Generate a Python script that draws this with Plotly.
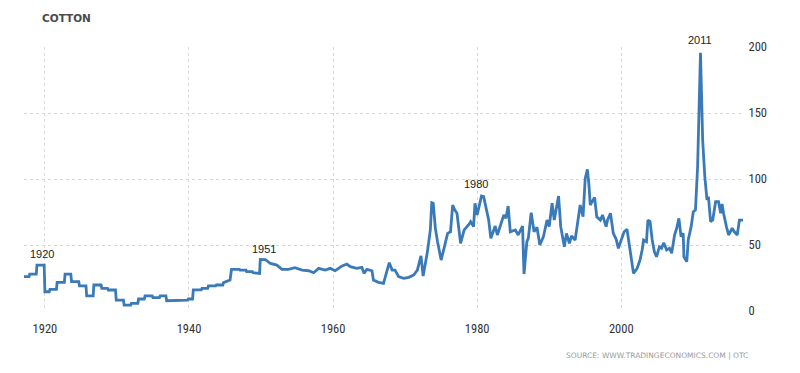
import plotly.graph_objects as go

# Cotton price (USd/lb) (decimal years)
years = [
    1917.1, 1917.8, 1917.9, 1918.8, 1918.9, 1919.9, 1920.0, 1920.6, 1920.7, 1921.6,
    1921.7, 1922.7, 1922.8, 1923.6, 1923.7, 1924.7, 1924.8, 1925.7, 1925.8, 1926.7,
    1926.8, 1927.8, 1927.9, 1928.7, 1928.8, 1929.8, 1929.9, 1930.9, 1931.0, 1931.9,
    1932.0, 1932.9, 1933.0, 1933.8, 1933.9, 1934.9, 1935.0, 1935.9, 1936.0, 1936.8,
    1936.9, 1938.9, 1939.0, 1939.8, 1939.9, 1940.5, 1940.6, 1941.7, 1941.8, 1942.6,
    1942.7, 1943.7, 1943.8, 1944.7, 1944.8, 1945.7, 1945.9, 1947.0, 1947.1, 1947.9,
    1948.0, 1948.8, 1948.9, 1949.6, 1949.8, 1949.9, 1950.6, 1951.3, 1952.2, 1952.9,
    1953.8, 1954.7, 1955.7, 1956.6, 1957.3, 1958.0, 1958.9, 1959.6, 1960.3, 1961.2,
    1961.9, 1962.4, 1963.3, 1964.0, 1964.3, 1964.7, 1965.4, 1965.6, 1966.3, 1967.0,
    1967.5, 1967.8, 1968.2, 1968.6, 1969.1, 1969.8, 1970.5, 1971.2, 1971.7, 1972.2,
    1972.5, 1973.1, 1973.5, 1973.7, 1973.9, 1974.2, 1974.5, 1975.0, 1975.4, 1975.9,
    1976.3, 1976.6, 1976.9, 1977.2, 1977.7, 1978.2, 1978.8, 1979.1, 1979.5, 1979.7,
    1980.0, 1980.6, 1980.9, 1981.3, 1981.6, 1981.9, 1982.5, 1982.8, 1983.4, 1983.7,
    1984.0, 1984.3, 1984.6, 1985.3, 1985.7, 1986.3, 1986.5, 1986.9, 1987.1, 1987.5,
    1987.9, 1988.3, 1988.7, 1989.2, 1989.7, 1990.0, 1990.4, 1990.7, 1991.3, 1991.6,
    1992.1, 1992.4, 1992.8, 1993.1, 1993.6, 1994.1, 1994.3, 1994.7, 1995.0, 1995.3,
    1995.5, 1995.7, 1996.3, 1996.6, 1997.1, 1997.4, 1997.9, 1998.1, 1998.5, 1998.9,
    1999.3, 1999.6, 2000.1, 2000.4, 2000.8, 2001.2, 2001.5, 2001.7, 2002.2, 2002.6,
    2002.9, 2003.1, 2003.5, 2003.7, 2004.0, 2004.3, 2004.6, 2004.9, 2005.3, 2005.6,
    2005.9, 2006.3, 2006.7, 2007.0, 2007.4, 2007.7, 2008.0, 2008.3, 2008.6, 2008.7,
    2009.1, 2009.3, 2009.7, 2010.0, 2010.3, 2010.6, 2011.0, 2011.3, 2011.6, 2011.9,
    2012.1, 2012.4, 2012.7, 2013.1, 2013.5, 2013.8, 2014.0, 2014.2, 2014.6, 2014.9,
    2015.4, 2015.7, 2016.1, 2016.4, 2016.9,
]
prices = [
    26.0, 26.0, 28.0, 28.0, 34.8, 34.8, 14.6, 14.6, 16.4, 16.4,
    21.7, 21.7, 28.0, 28.0, 22.2, 22.2, 19.0, 19.0, 11.4, 11.4,
    19.7, 19.7, 17.2, 17.2, 15.9, 15.9, 8.3, 8.3, 4.5, 4.5,
    5.8, 5.8, 9.1, 9.1, 11.4, 11.4, 10.1, 10.1, 11.4, 11.4,
    7.8, 7.8, 8.3, 8.3, 9.1, 9.1, 16.0, 16.0, 17.2, 17.2,
    19.0, 19.0, 19.7, 19.7, 21.5, 23.5, 31.6, 31.6, 31.0, 31.0,
    29.8, 29.8, 29.0, 28.5, 28.5, 39.1, 39.0, 36.0, 34.8, 31.6,
    31.6, 32.8, 31.0, 30.5, 29.0, 32.3, 31.0, 32.3, 30.5, 34.0,
    35.6, 33.6, 32.3, 33.0, 28.5, 31.6, 30.5, 23.5, 21.7, 21.0,
    29.8, 36.6, 31.0, 31.0, 26.0, 24.7, 25.5, 27.3, 31.0, 41.7,
    26.5, 45.0, 61.4, 82.0, 81.6, 62.6, 52.5, 38.6, 47.5, 58.8,
    60.0, 80.3, 76.5, 74.0, 51.3, 61.4, 65.2, 67.7, 63.9, 81.6,
    72.7, 87.1, 86.6, 77.8, 68.9, 55.0, 64.4, 57.6, 68.9, 72.7,
    70.2, 79.5, 60.0, 61.4, 57.6, 64.4, 28.0, 52.5, 55.0, 74.5,
    60.0, 63.4, 50.0, 56.3, 68.9, 63.9, 81.6, 68.9, 87.1, 63.9,
    48.7, 58.8, 51.3, 56.8, 53.8, 72.7, 80.3, 71.4, 100.5, 107.3,
    96.7, 80.3, 86.1, 71.4, 68.9, 72.7, 63.9, 68.9, 74.0, 58.8,
    54.3, 47.5, 56.3, 60.0, 61.9, 46.2, 36.1, 28.5, 32.3, 38.6,
    46.2, 53.8, 52.5, 68.9, 67.7, 53.8, 44.9, 41.1, 48.7, 47.5,
    51.7, 46.2, 47.5, 43.7, 57.6, 62.7, 70.2, 56.3, 58.8, 41.1,
    37.3, 53.8, 63.9, 75.2, 76.5, 109.3, 195.7, 129.5, 101.7, 84.1,
    86.6, 67.7, 68.9, 82.8, 82.8, 74.0, 81.1, 74.0, 63.9, 57.6,
    62.7, 60.0, 57.6, 68.9, 68.9,
]

x_ticks = [1920, 1940, 1960, 1980, 2000]
y_ticks = [0, 50, 100, 150, 200]

ann_labels = ["1920", "1951", "1980", "2011"]
ann_x = [1919.6, 1950.4, 1979.9, 2011.0]
ann_y = [37, 41, 90, 199]

LINE = "#3a7ab8"
GRID = "#d8d8d8"
TICKFONT = dict(family="Liberation Sans Narrow, Roboto Condensed, Liberation Sans, Arial",
                size=12.5, color="#333333")

fig = go.Figure()
fig.add_trace(go.Scatter(
    x=years, y=prices, mode="lines",
    line=dict(color=LINE, width=2.8),
    hoverinfo="x+y", showlegend=False,
))

for t, xa, ya in zip(ann_labels, ann_x, ann_y):
    fig.add_annotation(x=xa, y=ya, xref="x", yref="y", text=t, showarrow=False,
                       yanchor="bottom", xanchor="center",
                       font=dict(family="Liberation Sans, Arial", size=11, color="#222222"))

fig.add_annotation(
    x=1.01, y=-0.17, xref="paper", yref="paper",
    text="SOURCE: WWW.TRADINGECONOMICS.COM | OTC", showarrow=False,
    xanchor="right", yanchor="middle",
    font=dict(family="DejaVu Sans, Verdana", size=7.5, color="#9a9a9a"),
)

fig.update_layout(
    width=800, height=373,
    margin=dict(l=24, r=57, t=47, b=62),
    paper_bgcolor="white", plot_bgcolor="white",
    title=dict(text="<b>COTTON</b>", x=42 / 800, xanchor="left", xref="container",
               y=1 - 18 / 373, yanchor="middle", yref="container",
               font=dict(family="DejaVu Sans, Verdana", size=10.5, color="#4a4a4a")),
    xaxis=dict(range=[1917.1, 2016.9], tickvals=x_ticks, ticktext=[str(v) for v in x_ticks],
               showgrid=True, gridcolor=GRID, griddash="dot", gridwidth=1,
               zeroline=False, showline=False, ticks="outside", ticklen=6,
               tickcolor="rgba(0,0,0,0)", tickfont=TICKFONT),
    yaxis=dict(range=[0, 200], tickvals=y_ticks, side="right",
               showgrid=True, gridcolor=GRID, griddash="dot", gridwidth=1,
               zeroline=False, showline=False, ticks="outside", ticklen=2,
               tickcolor="rgba(0,0,0,0)", tickfont=TICKFONT),
)

fig.write_html("out.html", config={"displayModeBar": False},
               post_script="document.body.style.margin='0';")
